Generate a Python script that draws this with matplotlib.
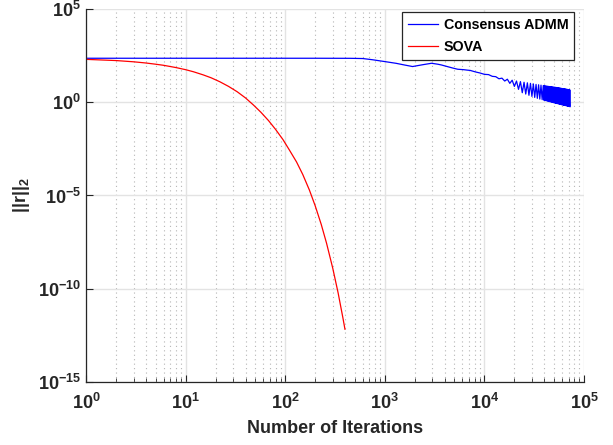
import matplotlib
matplotlib.use('Agg')
import matplotlib.pyplot as plt
import matplotlib.ticker as mticker
import numpy as np

plt.rcParams['font.family'] = 'Liberation Sans'
plt.rcParams['font.weight'] = 'bold'
plt.rcParams['mathtext.fontset'] = 'custom'
plt.rcParams['mathtext.rm'] = 'Liberation Sans:bold'
plt.rcParams['mathtext.it'] = 'Liberation Sans:bold'
plt.rcParams['mathtext.bf'] = 'Liberation Sans:bold'
plt.rcParams['mathtext.default'] = 'bf'
plt.rcParams['axes.unicode_minus'] = False

# Consensus ADMM: residual norm per iteration (flat part, then slow decay)
admm_iter = [1, 200, 450, 600, 750, 1000, 1300, 1600, 1900, 2400, 2950,
             3400, 3700, 4300, 4800, 5400, 6200, 6700, 7200, 7800, 8300]
admm_res = [234, 234, 232, 226, 195, 155, 125, 100, 84, 105, 126,
            112, 102, 82, 70, 60, 57, 54, 52, 46, 42]

# oscillating tail, first part (peak, trough, peak, ...)
admm_tail_iter = [9000, 10000, 11000, 12000, 13000, 14000, 15000, 16000,
                  17000, 18000, 19000, 20000, 21000, 22000, 23000, 24000,
                  25000, 26000, 27000, 28000, 29000, 30000, 31000, 32000,
                  33000, 34000, 35000, 36000, 37000, 38000, 39000, 39500]
admm_tail_res = [38, 32, 31, 25, 24, 18.5, 20, 14,
                 17.5, 10.5, 15.5, 7.2, 14, 5.0, 13, 3.3,
                 12, 2.8, 11.2, 2.4, 10.5, 2.1, 9.8, 1.85,
                 9.2, 1.65, 8.8, 1.5, 8.4, 1.4, 8.0, 1.32]

# oscillating tail, second part (denser)
admm_end_iter = [40000, 40500, 41000, 41500, 42000, 42500, 43000, 43500,
                 44000, 44500, 45000, 45500, 46000, 46500, 47000, 47500,
                 48000, 48500, 49000, 49500, 50000, 50500, 51000, 51500,
                 52000, 52500, 53000, 53500, 54000, 54500, 55000, 55500,
                 56000, 56500, 57000, 57500, 58000, 58500, 59000, 59500,
                 60000, 60500, 61000, 61500, 62000, 62500, 63000, 63500,
                 64000, 64500, 65000, 65500, 66000, 66500, 67000, 67500,
                 68000, 68500, 69000, 69500, 70000, 70500, 71000, 71500,
                 72000, 72500]
admm_end_res = [7.8, 1.28, 7.7, 1.23, 7.55, 1.19, 7.4, 1.15,
                7.25, 1.11, 7.1, 1.08, 7.0, 1.05, 6.9, 1.02,
                6.8, 0.99, 6.7, 0.96, 6.6, 0.94, 6.5, 0.91,
                6.4, 0.89, 6.3, 0.87, 6.2, 0.85, 6.1, 0.83,
                6.0, 0.81, 5.9, 0.79, 5.8, 0.77, 5.7, 0.75,
                5.6, 0.74, 5.5, 0.72, 5.45, 0.71, 5.35, 0.69,
                5.3, 0.68, 5.2, 0.67, 5.15, 0.66, 5.05, 0.64,
                5.0, 0.63, 4.9, 0.62, 4.85, 0.61, 4.75, 0.60,
                4.7, 0.59]

# SOVA
sova_iter = [1, 2, 3, 4, 5, 6, 8, 10, 12, 15, 18, 22, 27, 33, 40, 48, 57,
             68, 80, 95, 110, 130, 150, 175, 200, 230, 260, 300, 340, 380, 398]
sova_res = [204, 176, 151, 130, 112, 98, 74, 57, 44, 30, 21, 12.9, 7.2,
            3.7, 1.72, 0.72, 0.295, 0.105, 0.0355, 0.01, 2.8e-3, 6.3e-4,
            1.35e-4, 1.95e-5, 2.8e-6, 2.8e-7, 2.75e-8, 1.26e-9, 5.8e-11,
            2.6e-12, 6.6e-13]

x_admm = admm_iter + admm_tail_iter + admm_end_iter
y_admm = admm_res + admm_tail_res + admm_end_res

fig = plt.figure(figsize=(6.13, 4.45), dpi=100)
ax = fig.add_axes([0.1403, 0.1422, 0.8124, 0.837])

ax.loglog(x_admm, y_admm, color='#0000ff', lw=0.9, label='Consensus ADMM')
ax.loglog(sova_iter, sova_res, color='#ff0000', lw=0.9, label='SOVA')

ax.set_xlim(1, 1e5)
ax.set_ylim(1e-15, 1e5)
ax.xaxis.set_major_locator(mticker.LogLocator(base=10, numticks=10))
ax.xaxis.set_minor_locator(mticker.LogLocator(base=10, subs=np.arange(2, 10), numticks=20))
ax.yaxis.set_major_locator(mticker.FixedLocator([1e-15, 1e-10, 1e-5, 1e0, 1e5]))
ax.yaxis.set_minor_locator(mticker.NullLocator())

ax.grid(True, which='major', color='#e3e3e3', lw=1.0, ls='-')
ax.grid(True, which='minor', axis='x', color='#b5b5b5', lw=0.8, ls=(0, (1, 3)))
ax.set_axisbelow(True)

for s in ['top', 'right']:
    ax.spines[s].set_visible(False)
for s in ['left', 'bottom']:
    ax.spines[s].set_color('#262626')
    ax.spines[s].set_linewidth(0.9)

ax.tick_params(which='both', direction='in', colors='#262626', labelsize=13)
ax.tick_params(which='major', length=5)
ax.tick_params(which='minor', length=3)
ax.tick_params(axis='x', pad=8)

ax.set_xlabel('Number of Iterations', fontsize=13, fontweight='bold',
              color='#262626', labelpad=5)
ax.set_ylabel(r'$||r||_2$', fontsize=13, color='#262626')

leg = ax.legend(loc='upper right', bbox_to_anchor=(0.98, 0.993),
                prop={'family': 'Liberation Sans', 'weight': 'bold', 'size': 10.3},
                frameon=True, fancybox=False, edgecolor='#262626', framealpha=1,
                borderaxespad=0, handlelength=2.1, handletextpad=0.4,
                borderpad=0.4, labelspacing=0.6)
leg.get_frame().set_linewidth(0.9)

fig.savefig('out.png', dpi=100)
